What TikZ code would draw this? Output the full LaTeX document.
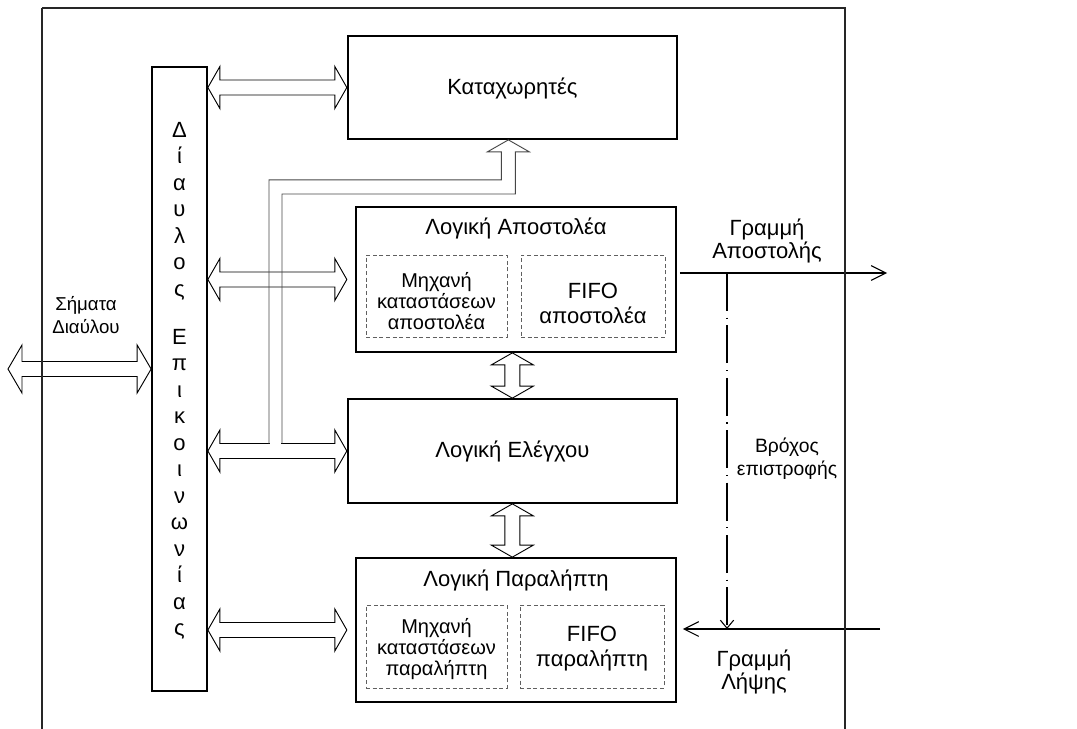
\documentclass[tikz,border=0pt]{standalone}
\usepackage{fontspec}
\setmainfont{Liberation Sans}
\usetikzlibrary{calc,fit,arrows.meta}

% hollow double-headed arrow, horizontal: left tip #1, right tip #2, head length #3, head half-width #4
\newcommand\hollowH[4]{%
  \draw[hollow] (#1) -- ($(#1)+(#3,-#4)$) -- ($(#1)+(#3,-7.5)$) -- ($(#2)+(-#3,-7.5)$)
    -- ($(#2)+(-#3,-#4)$) -- (#2) -- ($(#2)+(-#3,#4)$) -- ($(#2)+(-#3,7.5)$)
    -- ($(#1)+(#3,7.5)$) -- ($(#1)+(#3,#4)$) -- cycle;}
% hollow double-headed arrow, vertical: top tip #1, bottom tip #2
\newcommand\hollowV[2]{%
  \draw[hollow] (#1) -- ($(#1)+(-21,12)$) -- ($(#1)+(-7.5,12)$) -- ($(#2)+(-7.5,-12)$)
    -- ($(#2)+(-21,-12)$) -- (#2) -- ($(#2)+(21,-12)$) -- ($(#2)+(7.5,-12)$)
    -- ($(#1)+(7.5,12)$) -- ($(#1)+(21,12)$) -- cycle;}

\begin{document}
\begin{tikzpicture}[x=0.75pt,y=-0.75pt,
  font=\fontsize{16.5}{17.5}\selectfont,
  box/.style={draw, line width=1.3pt, inner sep=0pt},
  subbox/.style={draw=gray!75!black, dash pattern=on 3pt off 2pt, line width=0.7pt,
    inner sep=0pt},
  smtext/.style={align=center, font=\fontsize{15}{16}\selectfont},
  fifotext/.style={align=center, font=\fontsize{16.5}{18.5}\selectfont},
  hollow/.style={draw, line width=0.7pt, fill=white},
  busline/.style={draw=gray!55!black, line width=0.7pt},
  signal/.style={line width=0.8pt, -{Straight Barb[length=11pt,width=11pt]}},
  loopback/.style={line width=0.8pt, dash pattern=on 28.5pt off 5pt on 0.8pt off 5pt,
    -{Straight Barb[length=6pt,width=10pt]}},
  lbl/.style={align=center}]
\useasboundingbox (0,0) rectangle (1077,728);

% blocks
\node[box, fit={(152,66.7) (207,691)}] (bus) {};
\node[lbl, font=\fontsize{16.5}{19.9}\selectfont] (bustext) at ($(bus.center)+(0,2)$)
  {Δ\\ί\\α\\υ\\λ\\ο\\ς\\[16pt]Ε\\π\\ι\\κ\\ο\\ι\\ν\\ω\\ν\\ί\\α\\ς};

\node[box, fit={(347.7,36) (677,139)}] (reg) {};
\node[yshift=-1pt] (regtext) at (reg.center) {Καταχωρητές};

\node[box, fit={(356,207) (676,352)}] (tx) {};
\node (txtitle) at ($(tx.north)+(0,22)$) {Λογική Αποστολέα};
\node[subbox, fit={(366,255) (507,337)}] (txsm) {};
\node[smtext, yshift=-3.8pt] (txsmtext) at (txsm.center) {Μηχανή\\καταστάσεων\\αποστολέα};
\node[subbox, fit={(521,255) (665,337)}] (txfifo) {};
\node[fifotext, yshift=-5.5pt] (txfifotext) at (txfifo.center) {FIFO\\αποστολέα};

\node[box, fit={(347.7,399) (677,503)}] (ctl) {};
\node (ctltext) at (ctl.center) {Λογική Ελέγχου};

\node[box, fit={(356,558) (676,702)}] (rx) {};
\node (rxtitle) at ($(rx.north)+(0,23)$) {Λογική Παραλήπτη};
\node[subbox, fit={(366,605) (507,688)}] (rxsm) {};
\node[smtext, yshift=-2pt] (rxsmtext) at (rxsm.center) {Μηχανή\\καταστάσεων\\παραλήπτη};
\node[subbox, fit={(520,605) (664,688)}] (rxfifo) {};
\node[fifotext, yshift=-1.5pt] (rxfifotext) at (rxfifo.center) {FIFO\\παραλήπτη};

% bus connections
\coordinate (sig) at (8,369);
\hollowH{sig}{bus.west |- sig}{14}{24}
\hollowH{bus.east |- reg.west}{reg.west}{12}{21}
\hollowH{bus.east |- tx.west}{reg.west |- tx.west}{12}{21}
\hollowH{bus.east |- ctl.west}{ctl.west}{12}{21}
\hollowH{bus.east |- rx.west}{reg.west |- rx.west}{12}{21}

% branch from the control bus up to the registers
\coordinate (ltip) at ($(reg.south)+(-4,0)$);
\fill[white] (269.6,440) rectangle (281.4,447);
\draw[busline] (269,443.5) |- ($(ltip)+(-7,40)$) -- ($(ltip)+(-7,12)$) -- ($(ltip)+(-21,12)$)
  -- (ltip) -- ($(ltip)+(21,12)$) -- ($(ltip)+(7,12)$) |- (282,194) -- (282,443.5);

% links between the logic blocks
\hollowV{tx.south -| ctl.north}{ctl.north}
\hollowV{ctl.south}{rx.north -| ctl.south}

% serial lines
\coordinate (txend) at (887,273);
\coordinate (rxstart) at (880,629);
\coordinate (looptop) at (727,273);
\draw[signal] ($(tx.east |- txend)+(3,0)$) -- (txend);
\draw[signal] (rxstart) -- ($(rx.east |- rxstart)+(6,0)$);
\draw[loopback] (looptop) -- (looptop |- rxstart);

% labels
\node[lbl, font=\fontsize{14}{17}\selectfont] (siglbl) at (86,315) {Σήματα\\Διαύλου};
\node[lbl] (txlbl) at (767,241) {Γραμμή\\Αποστολής};
\node[lbl, font=\fontsize{14.5}{17}\selectfont] (looplbl) at (787,458.5) {Βρόχος\\επιστροφής};
\node[lbl] (rxlbl) at (754,672) {Γραμμή\\Λήψης};

% enclosing frame
\draw[line width=1.3pt, black!85] (42,8) -- (845,8) -- (845,735) (42,8) -- (42,735);
\end{tikzpicture}
\end{document}
